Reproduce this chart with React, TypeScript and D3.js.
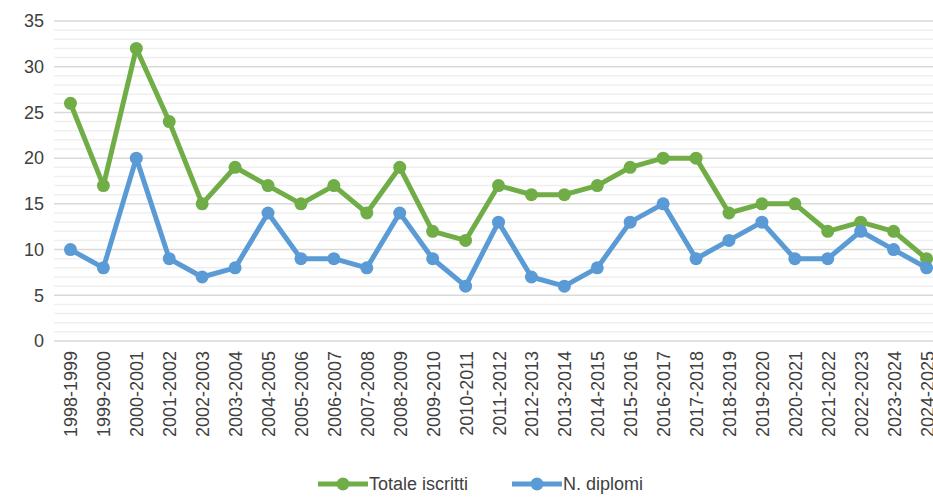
import React from "react";
import * as d3 from "d3";

const years = [
  "1998-1999", "1999-2000", "2000-2001", "2001-2002", "2002-2003", "2003-2004",
  "2004-2005", "2005-2006", "2006-2007", "2007-2008", "2008-2009", "2009-2010",
  "2010-2011", "2011-2012", "2012-2013", "2013-2014", "2014-2015", "2015-2016",
  "2016-2017", "2017-2018", "2018-2019", "2019-2020", "2020-2021", "2021-2022",
  "2022-2023", "2023-2024", "2024-2025",
];
const totaleIscritti = [26, 17, 32, 24, 15, 19, 17, 15, 17, 14, 19, 12, 11, 17, 16, 16, 17, 19, 20, 20, 14, 15, 15, 12, 13, 12, 9];
const nDiplomi = [10, 8, 20, 9, 7, 8, 14, 9, 9, 8, 14, 9, 6, 13, 7, 6, 8, 13, 15, 9, 11, 13, 9, 9, 12, 10, 8];
const yTicks = [0, 5, 10, 15, 20, 25, 30, 35];

const series = [
  { name: "Totale iscritti", values: totaleIscritti, color: "#70ad47" },
  { name: "N. diplomi", values: nDiplomi, color: "#5b9bd5" },
];

const width = 933;
const height = 497;
const font = "'Liberation Sans', Arial, sans-serif";

export default function App() {
  const left = 54, right = 943, top = 21, bottom = 341;

  const x = d3.scaleBand().domain(years).range([left, right]);
  const y = d3.scaleLinear().domain([0, 35]).range([bottom, top]);
  const cx = (d: string) => (x(d) ?? 0) + x.bandwidth() / 2;

  const line = d3.line<number>()
    .x((_, i) => cx(years[i]))
    .y((v) => y(v));

  const minor = d3.range(0, 36).filter((v) => v % 5 !== 0);

  const legendItems = [
    { ...series[0], x: 318 },
    { ...series[1], x: 512 },
  ];

  return (
    <svg width={width} height={height}
      style={{ position: "absolute", left: 0, top: 0, background: "#fff" }}>
      {/* minor gridlines */}
      {minor.map((v) => (
        <line key={"m" + v} x1={left} x2={width} y1={y(v)} y2={y(v)}
          stroke="#efefef" strokeWidth={1.5} />
      ))}
      {/* major gridlines */}
      {yTicks.map((v) => (
        <line key={"g" + v} x1={left} x2={width} y1={y(v)} y2={y(v)}
          stroke="#d9d9d9" strokeWidth={1.5} />
      ))}
      {yTicks.map((v) => (
        <text key={"t" + v} x={44} y={y(v)} dy="0.35em" textAnchor="end"
          fontFamily={font} fontSize={18} fill="#404040">{v}</text>
      ))}
      {years.map((d) => (
        <text key={d} transform={`translate(${cx(d) + 7},${bottom + 10}) rotate(-90)`}
          textAnchor="end" fontFamily={font} fontSize={18} fill="#404040">{d}</text>
      ))}

      {series.map((s) => (
        <g key={s.name}>
          <path d={line(s.values) ?? ""} fill="none" stroke={s.color}
            strokeWidth={5} strokeLinejoin="round" strokeLinecap="round" />
          {s.values.map((v, i) => (
            <circle key={i} cx={cx(years[i])} cy={y(v)} r={6.5} fill={s.color} />
          ))}
        </g>
      ))}

      {legendItems.map((s) => (
        <g key={"l" + s.name}>
          <line x1={s.x} x2={s.x + 50} y1={484} y2={484} stroke={s.color} strokeWidth={5} />
          <circle cx={s.x + 25} cy={484} r={6.5} fill={s.color} />
          <text x={s.x + 51} y={484} dy="0.35em" fontFamily={font} fontSize={18} fill="#404040">{s.name}</text>
        </g>
      ))}
    </svg>
  );
}
